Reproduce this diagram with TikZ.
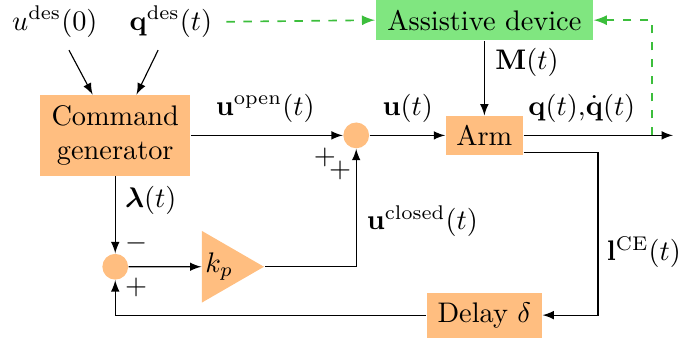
\documentclass[tikz,border=0pt]{standalone}
\usepackage{amsmath,bm}
\usetikzlibrary{shapes.geometric}
\definecolor{cOrange}{RGB}{255,190,128}
\definecolor{cGreen}{RGB}{128,230,128}
\definecolor{cDash}{RGB}{60,190,60}
\tikzset{
    block/.style={fill=cOrange, inner sep=2pt, align=center},
    sumdot/.style={circle, fill=cOrange, minimum size=0.32cm, inner sep=0pt},
    gainbox/.style={isosceles triangle, isosceles triangle apex angle=60, fill=cOrange, inner sep=0pt, minimum height=0.77cm},
    assist/.style={dashed, semithick, cDash}
}

\begin{document}
\begin{tikzpicture}[>=latex]
        \useasboundingbox (0,0) rectangle (8.45,4.22);

        % inputs
        \node (udes) at (0.68,3.95) {$u^{\mathrm{des}}(0)$};
        \node (qdes) at (2.12,3.95) {$\mathbf{q}^{\mathrm{des}}(t)$};

        % blocks
        \node[block, minimum width=1.86cm, minimum height=1.0cm] (cmd) at (1.43,2.54) {Command\\generator};
        \node[block, fill=cGreen, minimum width=2.7cm, minimum height=0.5cm] (dev) at (6.01,3.97) {Assistive device};
        \node[block, minimum width=0.96cm, minimum height=0.48cm] (arm) at (6.01,2.54) {Arm};
        \node[block, minimum width=1.43cm, minimum height=0.56cm] (delay) at (6.01,0.31) {Delay $\delta$};
        \node[sumdot] (sum1) at (4.42,2.54) {};
        \node[sumdot] (sum2) at (1.43,0.91) {};
        \node[gainbox] (gain) at (2.72,0.91) {$k_p$};

        \coordinate (out) at (8.35,2.54);
        \coordinate (tap) at (8.09,2.54);
        \coordinate (tapr) at (7.42,0.31);

        % forward path
        \draw[->] ([xshift=5pt,yshift=-1pt]udes.south) -- ([xshift=-8pt]cmd.north);
        \draw[->] ([xshift=-4.5pt,yshift=-1pt]qdes.south) -- ([xshift=7.5pt]cmd.north);
        \draw[->] (cmd.east) -- (sum1.west);
        \draw[->] (sum1.east) -- (arm.west);
        \draw[->] (arm.east) -- (out);
        \draw[->] (dev.south) -- (arm.north);

        % feedback path
        \draw[->] ([yshift=1pt]arm.south east) -| (tapr) -- (delay.east);
        \draw[->] (delay.west) -| (sum2.south);
        \draw[->] (cmd.south) -- (sum2.north);
        \draw[->] (sum2.east) -- (gain.west);
        \draw[->] (gain.apex) -| (sum1.south);

        % assistive device
        \draw[assist, ->] ([xshift=1.5pt]qdes.east) -- (dev.west);
        \draw[assist, ->] (tap) |- (dev.east);

        % labels
        \node (lopen) at (3.29,2.88) {$\mathbf{u}^{\mathrm{open}}(t)$};
        \node (lu) at (5.06,2.88) {$\mathbf{u}(t)$};
        \node (lq) at (7.22,2.88) {$\mathbf{q}(t)$,$\dot{\mathbf{q}}(t)$};
        \node (lM) at (6.54,3.45) {$\mathbf{M}(t)$};
        \node (llam) at (1.87,1.73) {$\bm{\lambda}(t)$};
        \node (lclosed) at (5.24,1.48) {$\mathbf{u}^{\mathrm{closed}}(t)$};
        \node (lce) at (7.99,1.09) {$\mathbf{l}^{\mathrm{CE}}(t)$};
        \node (sgnm) at (1.69,1.20) {$-$};
        \node (sgnp) at (1.69,0.65) {$+$};
        \node (sgna) at (4.03,2.27) {$+$};
        \node (sgnb) at (4.22,2.11) {$+$};
    \end{tikzpicture}
\end{document}
